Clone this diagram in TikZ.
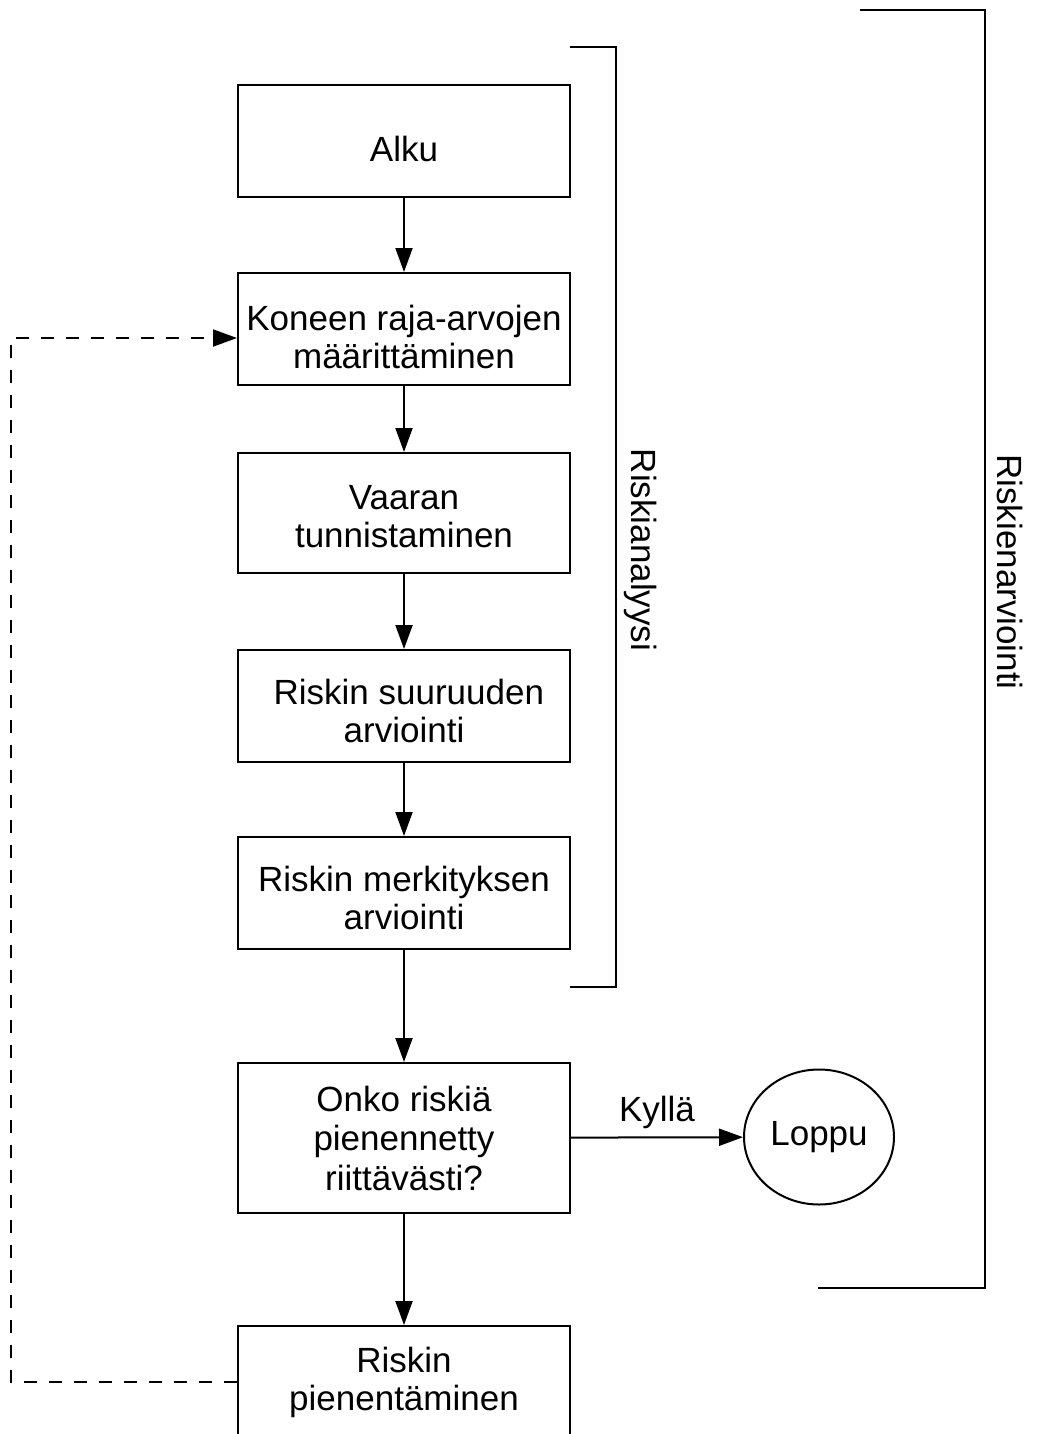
\documentclass[tikz,border=0pt]{standalone}
\usepackage{fontspec}
\setmainfont{Liberation Sans}
\usetikzlibrary{arrows.meta,shapes.geometric}
\newcommand{\alas}[1]{\rule{0pt}{#1}}

\begin{document}
\begin{tikzpicture}[x=0.5pt,y=0.5pt,yscale=-1,
  vaihe/.style={draw, line width=1pt, minimum width=166pt, minimum height=56pt, align=center, inner sep=2pt, font=\fontsize{17.5}{19}\selectfont},
  nuoli/.style={line width=1pt, -{Triangle[length=12pt,width=8.5pt]}},
  teksti/.style={inner sep=1pt, font=\fontsize{17.5}{19}\selectfont}]
\useasboundingbox (0,0) rectangle (1038,1434);

% Process boxes
\node[vaihe] (alku) at (404,141) {\alas{20.6pt}Alku};
\node[vaihe] (koneen) at (404,329) {\alas{20.6pt}Koneen raja-arvojen\\määrittäminen};
\node[vaihe, minimum height=60pt] (vaaran) at (404,513) {\alas{15.6pt}Vaaran\\tunnistaminen};
\node[vaihe] (suuruus) at (404,706) {\alas{17.6pt}\ Riskin suuruuden\\arviointi};
\node[vaihe] (merkitys) at (404,893) {\alas{17.6pt}Riskin merkityksen\\arviointi};
\node[vaihe, minimum height=75pt, font=\fontsize{17.5}{19.75}\selectfont] (onko) at (404,1138) {Onko riskiä\\pienennetty\\riittävästi?};
\node[vaihe] (pienen) at (404,1382) {Riskin\\pienentäminen};
% End circle
\node[draw, ellipse, line width=1pt, minimum width=75pt, minimum height=67.5pt, inner sep=0pt, font=\fontsize{17.5}{19}\selectfont] (loppu) at (819,1137) {Loppu};

% Arrows
\draw[nuoli] (alku) -- (koneen);
\draw[nuoli] (koneen) -- (vaaran);
\draw[nuoli] (vaaran) -- (suuruus);
\draw[nuoli] (suuruus) -- (merkitys);
\draw[nuoli] (merkitys) -- (onko);
\draw[nuoli] (onko) -- (pienen);
\draw[nuoli] (onko) -- node[teksti, above=3pt] (kylla) {Kyllä} (loppu);

% Feedback loop
\coordinate (paluu) at (11,338);
\draw[nuoli, dash pattern={on 6.5pt off 6pt}] (pienen.west) -| (paluu) -- (paluu -| koneen.west);

% Brackets
\draw[line width=1pt] (570,47) -- (616,47) -- (616,987) -- (570,987);
\node[teksti, rotate=-90] (analyysi) at (641,550) {Riskianalyysi};
\draw[line width=1pt] (860,10) -- (985,10) -- (985,1288) -- (818,1288);
\node[teksti, rotate=-90] (arviointi) at (1010,572) {Riskienarviointi};

\end{tikzpicture}
\end{document}
